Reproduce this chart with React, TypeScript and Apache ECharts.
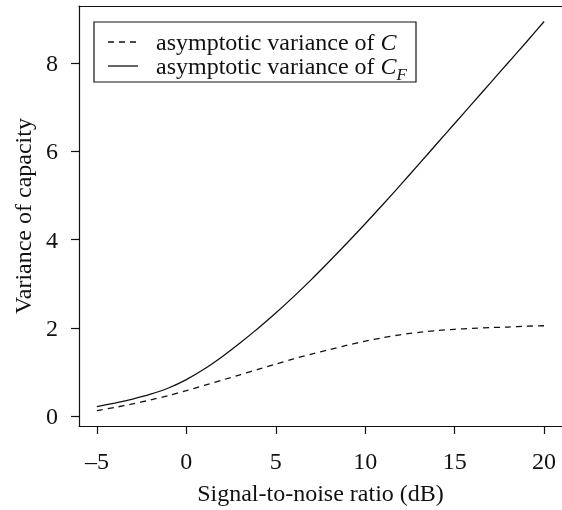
import React, { useEffect, useRef } from "react";
import * as echarts from "echarts";

const snrDb = [-5, -4, -3, -2, -1, 0, 1, 2, 3, 4, 5, 6, 7, 8, 9, 10, 11, 12, 13, 14, 15, 16, 17, 18, 19, 20];
const varianceC = [0.13, 0.2, 0.28, 0.37, 0.47, 0.58, 0.7, 0.82, 0.94, 1.06, 1.18, 1.3, 1.41, 1.51, 1.61, 1.7, 1.78, 1.85, 1.9, 1.94, 1.97, 1.99, 2.01, 2.02, 2.04, 2.05];
const varianceCF = [0.22, 0.3, 0.39, 0.5, 0.64, 0.83, 1.07, 1.35, 1.66, 1.99, 2.34, 2.71, 3.1, 3.51, 3.93, 4.36, 4.8, 5.25, 5.71, 6.17, 6.63, 7.09, 7.55, 8.01, 8.47, 8.94];
const xTicks = [-5, 0, 5, 10, 15, 20];
const yTicks = [0, 2, 4, 6, 8];
const legendLabels = ["asymptotic variance of {i|C}", "asymptotic variance of {i|C}{sub|F}"];

const FONT = "'Liberation Serif', 'Times New Roman', serif";
const INK = "#111";

export default function App() {
  const ref = useRef<HTMLDivElement>(null);
  useEffect(() => {
    if (!ref.current) return;
    const chart = echarts.init(ref.current, null, { renderer: "svg" });
    const fmt = (v: number) => (v < 0 ? "\u2013" + Math.abs(v) : String(v));
    const richStyles = {
      n: { fontFamily: FONT, fontSize: 24, color: INK, lineHeight: 34 },
      i: { fontFamily: FONT, fontSize: 24, fontStyle: "italic", color: INK, lineHeight: 34 },
      sub: { fontFamily: FONT, fontSize: 17, fontStyle: "italic", color: INK, verticalAlign: "bottom", lineHeight: 17 },
    };
    const axisLineStyle = { color: INK, width: 1.2 };
    chart.setOption({
      animation: false,
      grid: { left: 79, top: 6, width: 490, height: 428, containLabel: false },
      xAxis: [
        {
          type: "value",
          min: -6,
          max: 21,
          position: "bottom",
          axisLine: { show: true, onZero: false, lineStyle: axisLineStyle },
          axisTick: { show: true, customValues: xTicks, length: 8, lineStyle: axisLineStyle },
          axisLabel: { customValues: xTicks, formatter: fmt, margin: 23, fontSize: 24, fontFamily: FONT, color: INK },
          splitLine: { show: false },
          name: "Signal-to-noise ratio (dB)",
          nameLocation: "middle",
          nameGap: 55,
          nameTextStyle: { fontSize: 24, fontFamily: FONT, color: INK },
        },
        {
          type: "value",
          min: -6,
          max: 21,
          position: "top",
          axisLine: { show: true, onZero: false, lineStyle: axisLineStyle },
          axisTick: { show: false },
          axisLabel: { show: false },
          splitLine: { show: false },
        },
      ],
      yAxis: {
        type: "value",
        min: -0.22,
        max: 9.29,
        axisLine: { show: true, onZero: false, lineStyle: axisLineStyle },
        axisTick: { show: true, customValues: yTicks, length: 8, lineStyle: axisLineStyle },
        axisLabel: { customValues: yTicks, formatter: fmt, margin: 21, fontSize: 24, fontFamily: FONT, color: INK },
        splitLine: { show: false },
        name: "Variance of capacity",
        nameLocation: "middle",
        nameRotate: 90,
        nameGap: 44,
        nameTextStyle: { fontSize: 24, fontFamily: FONT, color: INK },
      },
      series: [
        {
          name: "C",
          type: "line",
          data: snrDb.map((x, k) => [x, varianceC[k]]),
          showSymbol: false,
          smooth: 0.25,
          lineStyle: { color: INK, width: 1.3, type: [6, 5] },
        },
        {
          name: "CF",
          type: "line",
          data: snrDb.map((x, k) => [x, varianceCF[k]]),
          showSymbol: false,
          smooth: 0.25,
          lineStyle: { color: INK, width: 1.3 },
        },
      ],
      graphic: [
        {
          type: "rect",
          shape: { x: 94, y: 22, width: 322, height: 60 },
          style: { fill: "#fff", stroke: INK, lineWidth: 1.2 },
        },
        {
          type: "line",
          shape: { x1: 108, y1: 42, x2: 138, y2: 42 },
          style: { stroke: INK, lineWidth: 1.3, lineDash: [6, 5] },
        },
        {
          type: "line",
          shape: { x1: 108, y1: 66, x2: 138, y2: 66 },
          style: { stroke: INK, lineWidth: 1.3 },
        },
        {
          type: "text",
          x: 156,
          y: 42,
          style: {
            text: "{n|" + legendLabels[0].replace("{i|", "}{i|"),
            fontFamily: FONT,
            fontSize: 24,
            fill: INK,
            verticalAlign: "middle",
            rich: richStyles,
          },
        },
        {
          type: "text",
          x: 156,
          y: 66,
          style: {
            text: "{n|" + legendLabels[1].replace("{i|", "}{i|"),
            fontFamily: FONT,
            fontSize: 24,
            fill: INK,
            verticalAlign: "middle",
            rich: richStyles,
          },
        },
      ],
    });
    return () => chart.dispose();
  }, []);
  return <div ref={ref} style={{ position: "fixed", left: 0, top: 0, width: 562, height: 510 }} />;
}
